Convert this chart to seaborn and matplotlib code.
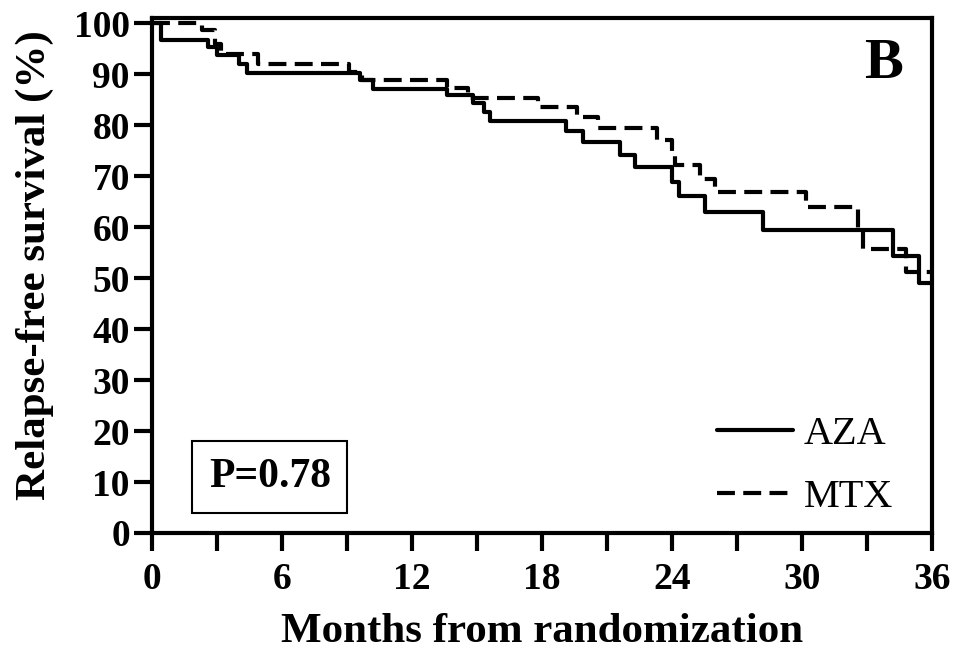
import matplotlib
matplotlib.use("Agg")
import matplotlib.pyplot as plt
import seaborn as sns
import pandas as pd
import numpy as np

# ---- data (months, % relapse-free) ----
aza_time = [0, 0.4, 2.6, 3.0, 4.0, 4.4, 9.6, 10.2, 13.6, 14.8, 15.3, 15.6, 19.1,
            19.9, 21.6, 22.3, 24.0, 24.3, 25.5, 28.2, 34.2, 35.4, 36.0]
aza_surv = [100, 96.8, 95.4, 93.8, 92.1, 90.3, 88.8, 87.2, 85.9, 84.3, 82.6, 80.8, 78.8,
            76.7, 74.1, 71.8, 68.9, 66.1, 63.0, 59.4, 54.3, 49.0, 49.0]

mtx_time = [0, 2.3, 2.9, 3.2, 4.9, 9.1, 9.7, 13.6, 14.6, 17.8, 19.6, 20.6, 23.3,
            24.0, 24.15, 25.3, 26.0, 30.2, 32.6, 32.8, 34.8, 36.0]
mtx_surv = [100, 98.6, 96.0, 94.0, 92.1, 90.5, 88.8, 87.3, 85.4, 83.6, 81.6, 79.5, 77.1,
            74.4, 72.2, 69.4, 66.9, 63.9, 59.8, 55.8, 51.2, 51.2]

groups = ["AZA", "MTX"]
x_ticks = [0, 6, 12, 18, 24, 30, 36]
y_ticks = [0, 10, 20, 30, 40, 50, 60, 70, 80, 90, 100]
p_text = "P=0.78"
panel_label = "B"

aza_df = pd.DataFrame({"t": aza_time, "s": aza_surv})
mtx_df = pd.DataFrame({"t": mtx_time, "s": mtx_surv})

sns.set_style("ticks")
plt.rcParams["font.family"] = ["Liberation Serif", "DejaVu Serif"]
plt.rcParams["text.color"] = "black"
plt.rcParams["axes.labelcolor"] = "black"
plt.rcParams["xtick.color"] = "black"
plt.rcParams["ytick.color"] = "black"
plt.rcParams["xtick.labelcolor"] = "black"
plt.rcParams["ytick.labelcolor"] = "black"

fig = plt.figure(figsize=(9.56, 6.5), dpi=100)
ax = fig.add_axes([0.159, 0.18, 0.816, 0.792])

sns.lineplot(data=aza_df, x="t", y="s", ax=ax, color="black", lw=3.0,
             drawstyle="steps-post", estimator=None, sort=False, label=groups[0])
sns.lineplot(data=mtx_df, x="t", y="s", ax=ax, color="black", lw=3.0,
             drawstyle="steps-post", estimator=None, sort=False, label=groups[1],
             linestyle=(0, (4.3, 2.0)))

ax.set_xlim(0, 36)
ax.set_ylim(0, 101)
ax.set_xticks(np.arange(0, 37, 3))
ax.set_xticklabels([str(v) if v in x_ticks else "" for v in range(0, 37, 3)])
ax.set_yticks(y_ticks)
ax.set_yticklabels([str(v) for v in y_ticks])

for sp in ax.spines.values():
    sp.set_linewidth(3.0)
    sp.set_color("black")
    sp.set_visible(True)

ax.tick_params(axis="both", which="both", direction="out", length=13, width=3,
               color="black", labelcolor="black", labelsize=27)
ax.tick_params(axis="x", pad=8)
ax.tick_params(axis="y", pad=3)
for lab in ax.get_xticklabels() + ax.get_yticklabels():
    lab.set_fontweight("bold")

ax.set_xlabel("Months from randomization", fontsize=31, fontweight="bold", color="black")
ax.set_ylabel("Relapse-free survival (%)", fontsize=31, fontweight="bold", color="black")
ax.xaxis.set_label_coords(0.5, -0.155)
ax.yaxis.set_label_coords(-0.125, 0.52)

leg = ax.legend(loc="center left", bbox_to_anchor=(0.724, 0.13), frameon=False,
                fontsize=29, handlelength=1.9, handletextpad=0.25,
                borderpad=0, borderaxespad=0, labelspacing=0.65)
for h in leg.get_lines():
    h.set_linewidth(3.0)
for t in leg.get_texts():
    t.set_color("black")

ax.text(0.151, 0.109, p_text, transform=ax.transAxes, ha="center", va="center",
        fontsize=30, fontweight="bold", color="black",
        bbox=dict(boxstyle="square,pad=0.4", fc="white", ec="black", lw=1.5))
ax.text(0.938, 0.911, panel_label, transform=ax.transAxes, ha="center", va="center",
        fontsize=42, fontweight="bold", color="black")

fig.savefig("out.png", dpi=100)
